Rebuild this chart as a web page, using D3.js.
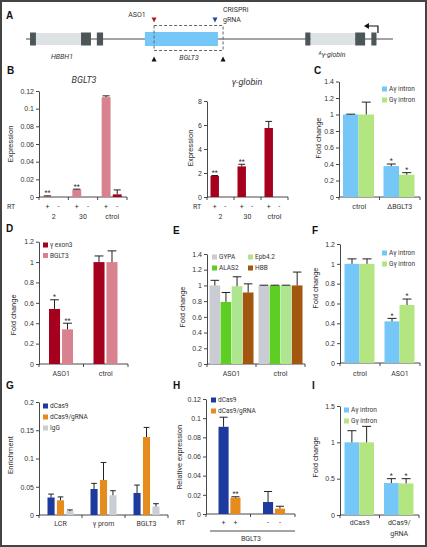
<!DOCTYPE html>
<html><head><meta charset="utf-8">
<script src="https://cdn.jsdelivr.net/npm/d3@7"></script>
<style>body{margin:0;background:#fff}svg{display:block;font-family:Roboto,"Open Sans",sans-serif}</style>
</head><body><script>
// ---------------- DATA ----------------
const rtSigns = ["+", "-"];
// Panel B
const bGroups = ["2", "30", "ctrol"];
const bBgltPlus = [0.001, 0.0085, 0.113];
const bBgltPlusErr = [0.0003, 0.0004, 0.0015];
const bBgltMinus = [0, 0, 0.003];
const bBgltMinusErr = [0, 0, 0.005];
const bBgltSig = ["**", "**", ""];
const bBgltTicks = [0, 0.02, 0.04, 0.06, 0.08, 0.1, 0.12];
const bGlobPlus = [1.75, 2.55, 5.75];
const bGlobPlusErr = [0.04, 0.18, 0.55];
const bGlobMinus = [0, 0, 0];
const bGlobSig = ["**", "**", ""];
const bGlobTicks = [0, 2, 4, 6, 8];
// Panel C
const intronSeries = ["Aγ intron", "Gγ intron"];
const cGroups = ["ctrol", "ΔBGLT3"];
const cAg = [1, 0.375], cAgErr = [0.004, 0.025], cAgSig = ["", "*"];
const cGg = [1, 0.27], cGgErr = [0.15, 0.025], cGgSig = ["", "*"];
const foldTicks14 = [0, 0.2, 0.4, 0.6, 0.8, 1, 1.2, 1.4];
const foldTicks12 = [0, 0.2, 0.4, 0.6, 0.8, 1, 1.2];
// Panel D
const dSeries = ["γ exon3", "BGLT3"];
const dGroups = ["ASO1", "ctrol"];
const dExon = [0.54, 1], dExonErr = [0.09, 0.06], dExonSig = ["*", ""];
const dBglt = [0.34, 1], dBgltErr = [0.06, 0.11], dBgltSig = ["**", ""];
// Panel E
const eSeries = ["GYPA", "ALAS2", "Epb4.2", "HBB"];
const eGroups = ["ASO1", "ctrol"];
const eGypa = [1, 1], eGypaErr = [0.065, 0.003];
const eAlas2 = [0.79, 1], eAlas2Err = [0.12, 0.003];
const eEpb = [0.99, 1], eEpbErr = [0.12, 0.003];
const eHbb = [0.91, 1], eHbbErr = [0.11, 0.17];
// Panel F
const fGroups = ["ctrol", "ASO1"];
const fAg = [1, 0.42], fAgErr = [0.05, 0.03], fAgSig = ["", "*"];
const fGg = [1, 0.585], fGgErr = [0.05, 0.06], fGgSig = ["", "*"];
// Panel G
const gSeries = ["dCas9", "dCas9/gRNA", "IgG"];
const gGroups = ["LCR", "γ prom", "BGLT3"];
const gDcas = [0.031, 0.046, 0.039], gDcasErr = [0.006, 0.01, 0.014];
const gGrna = [0.026, 0.062, 0.138], gGrnaErr = [0.006, 0.031, 0.017];
const gIgg = [0.007, 0.035, 0.015], gIggErr = [0.002, 0.008, 0.005];
const gTicks = [0, 0.05, 0.1, 0.15, 0.2];
// Panel H
const hSeries = ["dCas9", "dCas9/gRNA"];
const hGroups = ["+", "-"];
const hDcas = [0.091, 0.0125], hDcasErr = [0.01, 0.011];
const hGrna = [0.017, 0.0056], hGrnaErr = [0.001, 0.0025], hGrnaSig = ["**", ""];
const hTicks = [0, 0.02, 0.04, 0.06, 0.08, 0.1, 0.12];
// Panel I
const iGroups = ["dCas9", "dCas9/gRNA"];
const iAg = [1, 0.44], iAgErr = [0.16, 0.06], iAgSig = ["", "*"];
const iGg = [1, 0.435], iGgErr = [0.22, 0.065], iGgSig = ["", "*"];
const iTicks = [0, 0.5, 1, 1.5];

// ---------------- STYLE ----------------
const C = {
  darkRed: "#a6001f", pink: "#d8828f", blue: "#74c7f6", green: "#b3e681",
  gypa: "#c9ccd2", alas2: "#5ccf22", epb: "#aee690", hbb: "#a3560d",
  navy: "#1e3a9f", orange: "#e48c1d", igg: "#c9ced4", axis: "#333"
};
const W = 427, H = 547;
const svg = d3.select("body").append("svg").attr("width", W).attr("height", H);
svg.append("rect").attr("width", W).attr("height", H).attr("fill", "#fff");
const fmt = d => d === 0 ? "0" : d3.format("~g")(d);

function txt(g, x, y, s, o = {}) {
  const t = g.append("text").attr("x", x).attr("y", y).attr("dy", "0.35em")
    .attr("text-anchor", o.anchor || "middle").attr("fill", o.fill || "#333")
    .style("font-size", (o.size || 7) + "px").text(s);
  if (o.italic) t.style("font-style", "italic");
  if (o.bold) t.style("font-weight", "bold");
  if (o.family) t.style("font-family", o.family);
  if (o.rotate) t.attr("transform", `rotate(-90,${x},${y})`);
  return t;
}
function letter(x, y, s) { txt(svg, x, y, s, {anchor: "start", size: 10, bold: true, fill: "#111", family: "Liberation Sans, Arial, sans-serif"}); }

function drawPanel(p) {
  const g = svg.append("g");
  const y = d3.scaleLinear().domain([0, p.ymax]).range([p.yZero, p.yTop]);
  const x = d3.scaleBand().domain(p.groups).range([p.x0, p.x1]);
  const xi = d3.scaleBand().domain(p.series.map(s => s.key)).range(p.inner).paddingInner(p.pad);
  const ax = g.append("g").attr("transform", `translate(${p.x0},0)`)
    .call(d3.axisLeft(y).tickValues(p.ticks).tickSize(3).tickSizeOuter(0).tickPadding(2).tickFormat(fmt));
  ax.select(".domain").attr("stroke", C.axis).attr("stroke-width", 0.9);
  ax.selectAll(".tick line").attr("stroke", C.axis).attr("stroke-width", 0.9);
  ax.selectAll(".tick text").attr("fill", "#333").style("font-size", "7px").attr("font-family", null);
  g.append("line").attr("x1", p.x0).attr("x2", p.x1).attr("y1", p.yZero).attr("y2", p.yZero)
    .attr("stroke", C.axis).attr("stroke-width", 0.9);
  const bounds = [p.x0].concat(p.groups.map(gr => x(gr) + x.bandwidth()));
  bounds.forEach(b => g.append("line").attr("x1", b).attr("x2", b).attr("y1", p.yZero).attr("y2", p.yZero + 3)
    .attr("stroke", C.axis).attr("stroke-width", 0.9));
  const bw = xi.bandwidth();
  const capW = Math.min(bw * 0.8, 9);
  p.series.forEach(s => {
    const rows = p.groups.map((gr, i) => ({gr, v: s.values[i], e: s.errs ? s.errs[i] : 0, sig: s.sig ? s.sig[i] : ""}));
    const cx = d => x(d.gr) + xi(s.key) + bw / 2;
    g.selectAll(null).data(rows).join("rect")
      .attr("x", d => x(d.gr) + xi(s.key)).attr("y", d => y(d.v))
      .attr("width", bw).attr("height", d => y(0) - y(d.v)).attr("fill", s.color);
    const er = rows.filter(d => d.e > 0);
    g.selectAll(null).data(er).join("line")
      .attr("x1", cx).attr("x2", cx).attr("y1", d => y(d.v)).attr("y2", d => y(d.v + d.e))
      .attr("stroke", "#222").attr("stroke-width", 1);
    g.selectAll(null).data(er).join("line")
      .attr("x1", d => cx(d) - capW / 2).attr("x2", d => cx(d) + capW / 2)
      .attr("y1", d => y(d.v + d.e)).attr("y2", d => y(d.v + d.e))
      .attr("stroke", "#222").attr("stroke-width", 1);
    rows.filter(d => d.sig).forEach(d => txt(g, cx(d), y(d.v + d.e) - 3, d.sig, {size: 7}));
    if (p.barLabels) rows.forEach(d => txt(g, cx(d), p.barLabelY, s.label, {size: 7}));
  });
  if (p.groupLabels !== false) p.groups.forEach((gr, i) => {
    const lines = (p.groupText ? p.groupText[i] : gr).split("\n");
    lines.forEach((ln, k) => txt(g, x(gr) + x.bandwidth() / 2, p.labelY + k * 11, ln, {size: 7}));
  });
  if (p.ylabel) txt(g, p.ylabel[1], p.ylabel[2], p.ylabel[0], {size: 7.5, rotate: true});
  return {g, x, xi, y};
}
function legend(items, x0, y0, dy, dx, perRow) {
  items.forEach((it, i) => {
    const col = i % perRow, row = Math.floor(i / perRow);
    const lx = x0 + col * dx, ly = y0 + row * dy;
    svg.append("rect").attr("x", lx).attr("y", ly - 2.5).attr("width", 5).attr("height", 5).attr("fill", it.color);
    txt(svg, lx + 7, ly, it.name, {anchor: "start", size: 6.5});
  });
}

// ---------------- PANEL A ----------------
letter(6, 15, "A");
{
  const gx = d3.scaleLinear().domain([0, 100]).range([26, 393]);
  const gy = 39;
  const gA = svg.append("g");
  gA.append("line").attr("x1", gx(0)).attr("x2", gx(100)).attr("y1", gy).attr("y2", gy).attr("stroke", "#333").attr("stroke-width", 0.9);
  const introns = [[2.7, 15], [77.5, 89.7]];
  const exons = [[1.1, 2.7], [15, 17.7], [19.3, 21], [76.1, 77.5], [89.7, 92.4], [94.1, 95.5]];
  introns.forEach(d => gA.append("rect").attr("x", gx(d[0])).attr("width", gx(d[1]) - gx(d[0])).attr("y", gy - 6).attr("height", 12).attr("fill", "#dde2e4"));
  exons.forEach(d => gA.append("rect").attr("x", gx(d[0])).attr("width", gx(d[1]) - gx(d[0])).attr("y", gy - 6.5).attr("height", 13).attr("fill", "#4c5659"));
  const bglt = [32.4, 52.3];
  gA.append("rect").attr("x", gx(bglt[0])).attr("width", gx(bglt[1]) - gx(bglt[0])).attr("y", gy - 7).attr("height", 14).attr("fill", C.blue);
  const dash = [34.9, 53.7];
  gA.append("rect").attr("x", gx(dash[0])).attr("width", gx(dash[1]) - gx(dash[0])).attr("y", gy - 13.5).attr("height", 25)
    .attr("fill", "none").attr("stroke", "#666").attr("stroke-width", 1).attr("stroke-dasharray", "3,2");
  const tri = (cx, cy, dir, col) => gA.append("path")
    .attr("d", dir > 0 ? `M${cx - 2.5},${cy - 2.5}L${cx + 2.5},${cy - 2.5}L${cx},${cy + 2.5}Z` : `M${cx - 2.5},${cy + 2.5}L${cx + 2.5},${cy + 2.5}L${cx},${cy - 2.5}Z`)
    .attr("fill", col);
  tri(gx(dash[0]), 20, 1, "#b3172c");
  tri(gx(51.5), 20, 1, "#21489c");
  tri(gx(dash[0]), 59, -1, "#111");
  tri(gx(dash[1]), 59, -1, "#111");
  // TSS arrow
  const ax0 = gx(95.9);
  gA.append("path").attr("d", `M${ax0},${gy - 6}V${gy - 13}H${ax0 - 10}`).attr("fill", "none").attr("stroke", "#111").attr("stroke-width", 1.2);
  gA.append("path").attr("d", `M${ax0 - 14},${gy - 13}L${ax0 - 9},${gy - 16}L${ax0 - 9},${gy - 10}Z`).attr("fill", "#111");
  txt(gA, 137, 15, "ASO1", {size: 7});
  txt(gA, 223, 10, "CRISPRi", {anchor: "start", size: 7});
  txt(gA, 223, 19.5, "gRNA", {anchor: "start", size: 7});
  txt(gA, 62, 57, "HBBH1", {size: 7, italic: true});
  txt(gA, 189, 58, "BGLT3", {size: 7, italic: true});
  const t = gA.append("text").attr("x", 332).attr("y", 57).attr("dy", "0.35em").attr("text-anchor", "middle")
    .attr("fill", "#333").style("font-size", "7px").style("font-style", "italic");
  t.append("tspan").text("A").style("font-size", "5px").attr("dy", "-2");
  t.append("tspan").text("γ-globin").attr("dy", "2");
}

// ---------------- PANEL B ----------------
letter(7, 70, "B");
txt(svg, 84, 80, "BGLT3", {size: 9, italic: true});
txt(svg, 247, 82, "γ-globin", {size: 9, italic: true});
drawPanel({
  x0: 39, x1: 127, yZero: 197, yTop: 91, ymax: 0.12, ticks: bBgltTicks, groups: bGroups, labelY: 217,
  inner: [4, 24], pad: 0.2, barLabels: true, barLabelY: 207, ylabel: ["Expression", 10, 144],
  series: [
    {key: "p", label: rtSigns[0], color: C.pink, values: bBgltPlus, errs: bBgltPlusErr, sig: bBgltSig},
    {key: "m", label: rtSigns[1], color: C.darkRed, values: bBgltMinus, errs: bBgltMinusErr}
  ]
});
txt(svg, 11, 207, "RT", {size: 7});
drawPanel({
  x0: 207, x1: 288, yZero: 197, yTop: 101, ymax: 8, ticks: bGlobTicks, groups: bGroups, labelY: 217,
  inner: [3.5, 22.5], pad: 0.2, barLabels: true, barLabelY: 207, ylabel: ["Expression", 190, 148],
  series: [
    {key: "p", label: rtSigns[0], color: C.darkRed, values: bGlobPlus, errs: bGlobPlusErr, sig: bGlobSig},
    {key: "m", label: rtSigns[1], color: C.darkRed, values: bGlobMinus}
  ]
});
txt(svg, 197, 207, "RT", {size: 7});

// ---------------- PANEL C ----------------
letter(314, 70, "C");
drawPanel({
  x0: 339, x1: 420, yZero: 197, yTop: 81.5, ymax: 1.4, ticks: foldTicks14, groups: cGroups, labelY: 207,
  inner: [4, 35], pad: 0, ylabel: ["Fold change", 318, 138],
  series: [
    {key: intronSeries[0], color: C.blue, values: cAg, errs: cAgErr, sig: cAgSig},
    {key: intronSeries[1], color: C.green, values: cGg, errs: cGgErr, sig: cGgSig}
  ]
});
legend([{name: intronSeries[0], color: C.blue}, {name: intronSeries[1], color: C.green}], 382, 89, 11, 0, 1);

// ---------------- PANEL D ----------------
letter(6, 228, "D");
drawPanel({
  x0: 39, x1: 128, yZero: 364, yTop: 241.7, ymax: 1.2, ticks: foldTicks12, groups: dGroups, labelY: 374,
  inner: [10, 34], pad: 0.15, ylabel: ["Fold change", 13, 315],
  series: [
    {key: dSeries[0], color: C.darkRed, values: dExon, errs: dExonErr, sig: dExonSig},
    {key: dSeries[1], color: C.pink, values: dBglt, errs: dBgltErr, sig: dBgltSig}
  ]
});
legend([{name: dSeries[0], color: C.darkRed}, {name: dSeries[1], color: C.pink}], 43, 245, 10.5, 0, 1);

// ---------------- PANEL E ----------------
letter(173, 230, "E");
drawPanel({
  x0: 207, x1: 305, yZero: 364, yTop: 254, ymax: 1.4, ticks: foldTicks14, groups: eGroups, labelY: 374,
  inner: [2.5, 46.5], pad: 0.04, ylabel: ["Fold change", 182, 307],
  series: [
    {key: eSeries[0], color: C.gypa, values: eGypa, errs: eGypaErr},
    {key: eSeries[1], color: C.alas2, values: eAlas2, errs: eAlas2Err},
    {key: eSeries[2], color: C.epb, values: eEpb, errs: eEpbErr},
    {key: eSeries[3], color: C.hbb, values: eHbb, errs: eHbbErr}
  ]
});
legend([{name: eSeries[0], color: C.gypa}, {name: eSeries[2], color: C.epb},
        {name: eSeries[1], color: C.alas2}, {name: eSeries[3], color: C.hbb}], 212, 257, 11, 36, 2);

// ---------------- PANEL F ----------------
letter(312, 230, "F");
drawPanel({
  x0: 340, x1: 420, yZero: 363, yTop: 244, ymax: 1.2, ticks: foldTicks12, groups: fGroups, labelY: 374,
  inner: [4.5, 34.5], pad: 0, ylabel: ["Fold change", 315, 288],
  series: [
    {key: intronSeries[0], color: C.blue, values: fAg, errs: fAgErr, sig: fAgSig},
    {key: intronSeries[1], color: C.green, values: fGg, errs: fGgErr, sig: fGgSig}
  ]
});
legend([{name: intronSeries[0], color: C.blue}, {name: intronSeries[1], color: C.green}], 382, 253, 11, 0, 1);

// ---------------- PANEL G ----------------
letter(6, 385, "G");
drawPanel({
  x0: 39, x1: 168, yZero: 515, yTop: 402, ymax: 0.2, ticks: gTicks, groups: gGroups, labelY: 524,
  inner: [8.5, 34.5], pad: 0.25, ylabel: ["Enrichment", 10, 455],
  series: [
    {key: gSeries[0], color: C.navy, values: gDcas, errs: gDcasErr},
    {key: gSeries[1], color: C.orange, values: gGrna, errs: gGrnaErr},
    {key: gSeries[2], color: C.igg, values: gIgg, errs: gIggErr}
  ]
});
legend(gSeries.map((s, i) => ({name: s, color: [C.navy, C.orange, C.igg][i]})), 43, 406, 11, 0, 1);

// ---------------- PANEL H ----------------
letter(173, 385, "H");
const hp = drawPanel({
  x0: 206, x1: 295, yZero: 514, yTop: 399, ymax: 0.12, ticks: hTicks, groups: hGroups, labelY: 523,
  groupLabels: false, inner: [12.5, 34.5], pad: 0.15, ylabel: ["Relative expression", 179, 457],
  series: [
    {key: hSeries[0], color: C.navy, values: hDcas, errs: hDcasErr},
    {key: hSeries[1], color: C.orange, values: hGrna, errs: hGrnaErr, sig: hGrnaSig}
  ]
});
hGroups.forEach(gr => hSeries.forEach(s => txt(svg, hp.x(gr) + hp.xi(s) + hp.xi.bandwidth() / 2, 523, gr, {size: 7})));
txt(svg, 181, 523, "RT", {size: 7});
svg.append("line").attr("x1", 210).attr("x2", 295).attr("y1", 531).attr("y2", 531).attr("stroke", "#333").attr("stroke-width", 0.9);
txt(svg, 251, 539, "BGLT3", {size: 7});
legend(hSeries.map((s, i) => ({name: s, color: [C.navy, C.orange][i]})), 211, 400, 11, 0, 1);

// ---------------- PANEL I ----------------
letter(312, 385, "I");
drawPanel({
  x0: 340, x1: 419, yZero: 515, yTop: 406, ymax: 1.5, ticks: iTicks, groups: iGroups, labelY: 523,
  groupText: ["dCas9", "dCas9/\ngRNA"], inner: [4.5, 34], pad: 0, ylabel: ["Fold change", 315, 457],
  series: [
    {key: intronSeries[0], color: C.blue, values: iAg, errs: iAgErr, sig: iAgSig},
    {key: intronSeries[1], color: C.green, values: iGg, errs: iGgErr, sig: iGgSig}
  ]
});
legend([{name: intronSeries[0], color: C.blue}, {name: intronSeries[1], color: C.green}], 344, 410, 11, 0, 1);

// frame
svg.append("rect").attr("x", 1).attr("y", 1).attr("width", W - 2).attr("height", H - 2)
  .attr("fill", "none").attr("stroke", "#444").attr("stroke-width", 2);
</script></body></html>
